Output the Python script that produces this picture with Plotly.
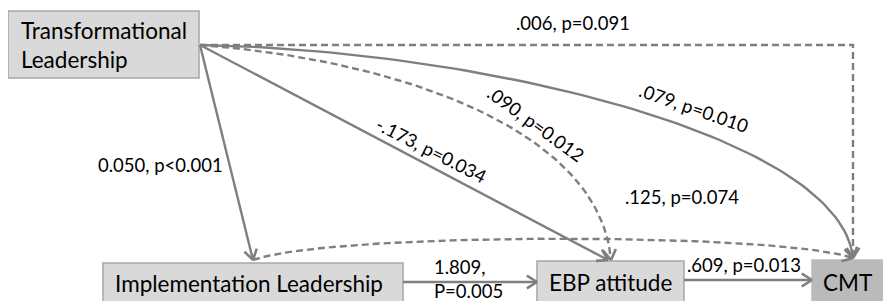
import numpy as np
import plotly.graph_objects as go

# ---------------- data ----------------
node_names = ["Transformational<br>Leadership", "Implementation Leadership", "EBP attitude", "CMT"]
node_keys = ["TL", "IL", "EBP", "CMT"]

edge_sources = ["TL", "TL", "TL", "TL", "TL", "IL", "IL", "EBP"]
edge_targets = ["IL", "EBP", "EBP", "CMT", "CMT", "CMT", "EBP", "CMT"]
edge_labels = ["0.050, p<0.001", "-.173, p=0.034", ".090, p=0.012", ".079, p=0.010",
               ".006, p=0.091", ".125, p=0.074", "1.809,<br>P=0.005", ".609, p=0.013"]
edge_significant = [True, True, False, True, False, False, True, True]

# ---------------- layout / geometry (pixel canvas) ----------------
W, H = 891, 301
PAGE_MARGIN = 8  # default browser body margin
FONT = "Lato"
LINE = "#7f7f7f"

boxes = {
    "TL": dict(x0=8, x1=199, y0=11, y1=78, fill="#d9d9d9", border="#a6a6a6", tx=19, ty=45),
    "IL": dict(x0=103, x1=403, y0=263, y1=304, fill="#d9d9d9", border="#a6a6a6", tx=113, ty=283),
    "EBP": dict(x0=537, x1=684, y0=261, y1=304, fill="#d9d9d9", border="#a6a6a6", tx=547, ty=282),
    "CMT": dict(x0=812, x1=884, y0=260, y1=304, fill="#bababa", border="#bababa", tx=821, ty=282),
}

origin = (200, 45)
il_tip = (253, 260)
ebp_tip = (610, 260)
cmt_tip = (853, 258)


def cubic(p0, p1, p2, p3, n=80):
    t = np.linspace(0, 1, n)[:, None]
    p0, p1, p2, p3 = map(np.array, (p0, p1, p2, p3))
    pts = (1 - t) ** 3 * p0 + 3 * (1 - t) ** 2 * t * p1 + 3 * (1 - t) * t ** 2 * p2 + t ** 3 * p3
    return pts[:, 0], pts[:, 1]


paths = {
    ("TL", "IL"): (np.array([origin[0], il_tip[0]]), np.array([origin[1], il_tip[1]])),
    ("TL", "EBP", True): (np.array([origin[0], ebp_tip[0] - 2]), np.array([origin[1], ebp_tip[1]])),
    ("TL", "EBP", False): cubic(origin, (400, 60), (600, 130), (ebp_tip[0] + 1, ebp_tip[1])),
    ("TL", "CMT", True): cubic(origin, (480, 50), (840, 135), cmt_tip),
    ("TL", "CMT", False): (np.array([origin[0], cmt_tip[0], cmt_tip[0]]),
                           np.array([origin[1], origin[1], cmt_tip[1]])),
    ("IL", "CMT"): cubic(il_tip, (330, 232), (780, 232), cmt_tip),
    ("IL", "EBP"): (np.array([403, 537]), np.array([282, 282])),
    ("EBP", "CMT"): (np.array([684, 812]), np.array([280, 280])),
}

label_pos = [
    dict(x=160, y=165, angle=0, xanchor="center"),
    dict(x=431, y=150, angle=27, xanchor="center"),
    dict(x=536, y=124, angle=36, xanchor="center"),
    dict(x=694, y=108, angle=19, xanchor="center"),
    dict(x=573, y=23, angle=0, xanchor="center"),
    dict(x=682, y=197, angle=0, xanchor="center"),
    dict(x=432, y=279, angle=0, xanchor="left"),
    dict(x=744, y=265, angle=0, xanchor="center"),
]

fig = go.Figure()


def add_arrowhead(xs, ys):
    ex, ey = xs[-1], ys[-1]
    k = max(0, len(xs) - 4) if len(xs) > 3 else len(xs) - 2
    dx, dy = ex - xs[k], ey - ys[k]
    L = np.hypot(dx, dy)
    dx, dy = dx / L, dy / L
    size, ang = 12, np.deg2rad(32)
    pts_x, pts_y = [], []
    for s in (1, -1):
        c, sn = np.cos(s * ang), np.sin(s * ang)
        rx = -(dx * c - dy * sn)
        ry = -(dx * sn + dy * c)
        pts_x += [ex + size * rx, ex, None]
        pts_y += [ey + size * ry, ey, None]
    fig.add_trace(go.Scatter(x=pts_x, y=pts_y, mode="lines",
                             line=dict(color=LINE, width=2.6), hoverinfo="skip", showlegend=False))


edge_keys = []
for s, t, sig in zip(edge_sources, edge_targets, edge_significant):
    key = (s, t, sig) if (s, t, sig) in paths else (s, t)
    edge_keys.append(key)

for key, sig in zip(edge_keys, edge_significant):
    xs, ys = paths[key]
    fig.add_trace(go.Scatter(
        x=xs, y=ys, mode="lines",
        line=dict(color=LINE, width=2.4, dash=None if sig else "7px,4px"),
        hoverinfo="skip", showlegend=False))
    add_arrowhead(list(xs), list(ys))

shapes = []
annotations = []
for key, name in zip(node_keys, node_names):
    b = boxes[key]
    shapes.append(dict(type="rect", xref="x", yref="y", x0=b["x0"], x1=b["x1"], y0=b["y0"], y1=b["y1"],
                       fillcolor=b["fill"], line=dict(color=b["border"], width=1.5), layer="below"))
    annotations.append(dict(x=b["tx"], y=b["ty"], xref="x", yref="y", text=name, showarrow=False,
                            xanchor="left", yanchor="middle", align="left",
                            font=dict(family=FONT, size=22.5, color="#000000")))

for lab, pos in zip(edge_labels, label_pos):
    annotations.append(dict(x=pos["x"], y=pos["y"], xref="x", yref="y", text=lab, showarrow=False,
                            xanchor=pos["xanchor"], yanchor="middle", align="left", textangle=pos["angle"],
                            font=dict(family=FONT, size=18.5, color="#000000")))

# the page body has an 8px margin, so the figure is offset; shift the canvas to compensate
fig.update_layout(
    width=W - PAGE_MARGIN, height=H - PAGE_MARGIN, margin=dict(l=0, r=0, t=0, b=0),
    paper_bgcolor="white", plot_bgcolor="white",
    xaxis=dict(range=[PAGE_MARGIN, W], visible=False, fixedrange=True),
    yaxis=dict(range=[H, PAGE_MARGIN], visible=False, fixedrange=True),
    shapes=shapes, annotations=annotations, showlegend=False,
)

fig.write_html("out.html")
